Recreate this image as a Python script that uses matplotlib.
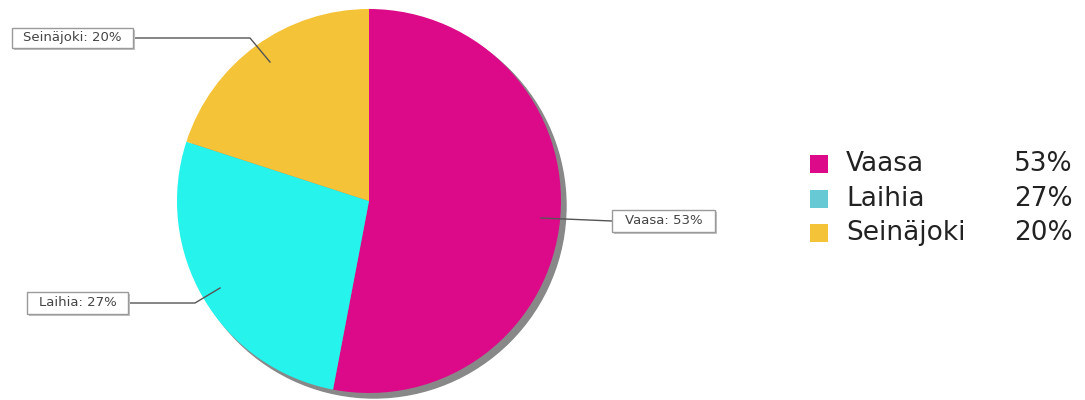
import matplotlib
matplotlib.use("Agg")
import matplotlib.pyplot as plt
from matplotlib.patches import Circle, Rectangle

# city shares
cities = ["Vaasa", "Laihia", "Seinäjoki"]
shares = [53, 27, 20]
slice_colors = ["#DC0A88", "#25F3EC", "#F5C337"]
legend_colors = ["#DC0A88", "#66C9D3", "#F5C337"]

fig = plt.figure(figsize=(10.85, 4), dpi=100)
ax = fig.add_axes([0, 0, 1, 1])

cx, cy, r = 369, 199, 192

# drop shadow behind the pie
ax.add_patch(Circle((cx + 5, cy - 5), r, color="#888888", zorder=0))

ax.pie(shares, colors=slice_colors, startangle=90, counterclock=False,
       center=(cx, cy), radius=r, wedgeprops=dict(linewidth=0),
       frame=True)

ax.set_xlim(0, 1085)
ax.set_ylim(0, 400)
ax.set_aspect("equal")
ax.axis("off")

# callout boxes: (left, bottom, width, height) and connector path
callouts = [
    ((612, 168, 103, 22), [(541, 182), (612, 179)]),
    ((27, 86, 101, 22), [(128, 97), (195, 97), (220, 112)]),
    ((12, 352, 121, 20), [(133, 362), (250, 362), (270, 338)]),
]
for name, val, (box, path) in zip(cities, shares, callouts):
    xs, ys = zip(*path)
    ax.plot(xs, ys, color="#555555", lw=1, zorder=3)
    x0, y0, w, h = box
    ax.add_patch(Rectangle((x0 + 2, y0 - 2), w, h, fc="#c4c4c4", lw=0, zorder=3))
    ax.add_patch(Rectangle((x0, y0), w, h, fc="white", ec="#9a9a9a", lw=1, zorder=4))
    ax.text(x0 + w / 2, y0 + h / 2, f"{name}: {val}%", fontsize=9.5, color="#444444",
            ha="center", va="center", zorder=5)

# legend on the right
row_y = [236, 201, 167]
for name, val, col, y in zip(cities, shares, legend_colors, row_y):
    ax.add_patch(Rectangle((810, y - 9), 18, 18, color=col, lw=0))
    ax.text(846, y, name, fontsize=19, color="#222222", va="center", ha="left")
    ax.text(1073, y, f"{val}%", fontsize=19, color="#222222", va="center", ha="right")

fig.savefig("out.png", dpi=100)
